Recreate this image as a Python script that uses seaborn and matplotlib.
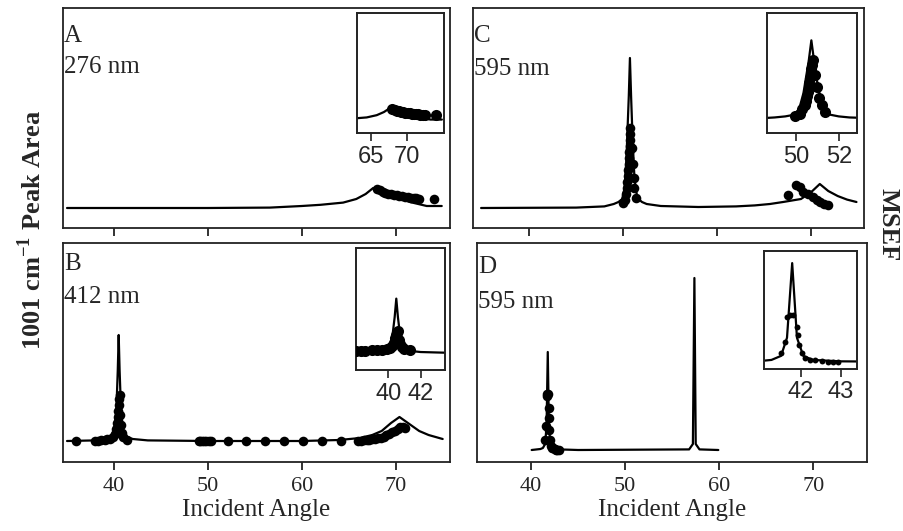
import matplotlib
matplotlib.use("Agg")
import matplotlib.pyplot as plt
import seaborn as sns

# ---------------- data ----------------
# Panel A, 276 nm
a_line_x = [35.0, 50.0, 56.6, 60.0, 62.0, 64.4, 65.8, 66.8, 67.6, 68.5, 70.0, 71.5, 73.3, 74.9]
a_line_y = [0.0, 0.0, 0.2, 1.0, 1.6, 2.7, 4.5, 7.0, 10.0, 8.5, 5.5, 3.0, 1.0, 1.0]
a_dot_x = [68.0, 68.3, 68.6, 68.9, 69.2, 69.5, 69.8, 70.1, 70.4, 70.7, 71.0, 71.3, 71.6, 71.9, 72.2, 72.5, 74.1]
a_dot_y = [9.5, 9.0, 8.0, 7.5, 7.0, 6.8, 6.5, 6.3, 6.0, 5.8, 5.6, 5.4, 5.2, 5.0, 4.8, 4.5, 4.3]

# Panel B, 412 nm
b_line_x = [35.0, 38.0, 39.0, 39.6, 40.0, 40.25, 40.4, 40.5, 40.6, 40.75, 41.0, 41.4, 42.0, 43.6,
            50.0, 60.0, 64.0, 66.2, 67.5, 68.5, 69.5, 70.4, 71.3, 72.5, 73.5, 75.0]
b_line_y = [0.0, 0.3, 0.8, 2.0, 5.0, 15.0, 35.0, 53.0, 35.0, 15.0, 5.0, 2.0, 1.0, 0.3,
            0.0, 0.0, 0.5, 1.5, 3.0, 5.0, 9.0, 12.0, 9.0, 5.0, 3.0, 1.0]
b_dot_x = [36.0, 38.0, 38.3, 38.6, 39.0, 39.3, 39.6, 39.9, 40.1, 40.25, 40.35, 40.4, 40.45, 40.5,
           40.55, 40.6, 40.65, 40.7, 40.85, 41.0, 41.35,
           49.0, 49.2, 49.4, 49.6, 49.8, 50.1, 50.3, 52.1, 54.1, 56.1, 58.1, 60.1, 62.2, 64.2,
           66.0, 66.3, 66.6, 66.9, 67.2, 67.5, 67.8, 68.1, 68.4, 68.7, 69.0, 69.3, 69.6, 69.9,
           70.2, 70.5, 70.8, 71.0]
b_dot_y = [0.0, 0.0, 0.0, 0.3, 0.5, 0.8, 1.2, 2.0, 3.5, 6.0, 9.0, 12.0, 15.0, 18.0,
           21.0, 23.0, 13.0, 8.0, 4.0, 2.0, 0.5,
           0.0, 0.0, 0.0, 0.0, 0.0, 0.0, 0.0, 0.0, 0.0, 0.0, 0.0, 0.0, 0.0, 0.0,
           0.0, 0.2, 0.3, 0.4, 0.5, 0.8, 1.0, 1.3, 1.7, 2.2, 2.8, 3.5, 4.3, 5.2,
           6.0, 6.8, 7.0, 6.5]

# Panel C, 595 nm
c_line_x = [34.9, 45.0, 48.0, 49.0, 49.5, 49.9, 50.15, 50.35, 50.6, 50.72, 50.85, 51.0, 51.2, 51.5,
            52.0, 52.5, 54.0, 58.0, 62.0, 64.0, 65.6, 67.0, 68.9, 70.0, 70.9, 71.8, 72.8, 73.8, 74.8]
c_line_y = [0.0, 0.2, 0.8, 2.0, 3.0, 4.5, 10.0, 25.0, 56.0, 75.0, 55.0, 35.0, 15.0, 5.0,
            3.0, 2.0, 1.0, 0.5, 0.8, 1.3, 2.0, 3.0, 4.5, 8.0, 12.0, 8.5, 6.0, 4.2, 3.0]
c_dot_x = [49.95, 50.2, 50.3, 50.4, 50.45, 50.5, 50.55, 50.6, 50.62, 50.65, 50.7, 50.72, 50.75,
           50.78, 50.9, 51.0, 51.1, 51.2, 51.35,
           67.5, 68.4, 68.8, 69.1, 69.7, 70.2, 70.6, 70.9, 71.4, 71.8]
c_dot_y = [2.6, 4.0, 7.0, 10.0, 13.0, 16.0, 19.0, 22.0, 25.0, 28.0, 31.0, 34.0, 37.0,
           40.0, 30.0, 22.0, 15.0, 10.0, 5.0,
           6.3, 11.3, 10.4, 7.9, 7.1, 5.4, 3.8, 2.9, 2.1, 1.3]

# Panel D, 595 nm
d_line_x = [40.07, 41.0, 41.26, 41.5, 41.65, 41.78, 41.9, 42.06, 42.3, 43.0, 45.0,
            56.8, 57.2, 57.36, 57.5, 57.9, 59.9]
d_line_y = [0.0, 0.5, 1.0, 3.0, 12.0, 49.0, 12.0, 3.0, 1.0, 0.3, 0.0,
            0.3, 3.0, 86.0, 3.0, 0.3, 0.0]
d_dot_x = [41.51, 41.60, 41.65, 41.72, 41.81, 41.89, 41.92, 41.95, 42.02, 42.10, 42.23, 42.35,
           42.52, 42.69, 42.81, 42.94]
d_dot_y = [5.2, 12.1, 27.0, 28.0, 28.0, 21.0, 16.0, 10.0, 5.2, 2.2, 1.2, 1.2,
           0.6, 0.2, 0.2, 0.2]

letters = ["A", "B", "C", "D"]
wavelengths = ["276 nm", "412 nm", "595 nm", "595 nm"]
main_ticks = [40, 50, 60, 70]
inset_ticks = [[65, 70], [40, 42], [50, 52], [42, 43]]

# ---------------- style ----------------
sns.set_style("ticks")
plt.rcParams["font.family"] = ["Liberation Serif", "DejaVu Serif"]
plt.rcParams["mathtext.fontset"] = "custom"
plt.rcParams["mathtext.rm"] = "Liberation Serif"
plt.rcParams["mathtext.bf"] = "Liberation Serif:bold"

W, H = 904, 531
fig = plt.figure(figsize=(W / 100, H / 100), dpi=100)
FRAME = "#222222"


def box(l, t, r, b):
    return [l / W, 1 - b / H, (r - l) / W, (b - t) / H]


def style_frame(ax, lw=1.3):
    for s in ax.spines.values():
        s.set_visible(True)
        s.set_color(FRAME)
        s.set_linewidth(lw)
    ax.set_yticks([])
    ax.set_ylabel("")
    ax.set_xlabel("")


def draw_main(rect, xlim, ylim, lx, ly, dx, dy, letter, wl, text_y, labels_on):
    ax = fig.add_axes(box(*rect))
    sns.lineplot(x=lx, y=ly, ax=ax, color="black", lw=1.6, estimator=None, sort=False)
    sns.scatterplot(x=dx, y=dy, ax=ax, color="black", s=48, linewidth=0, zorder=3)
    ax.set_xlim(xlim)
    ax.set_ylim(ylim)
    style_frame(ax)
    ax.set_xticks(main_ticks)
    ax.tick_params(axis="x", direction="out", length=6, width=1.3, color=FRAME,
                   labelsize=16, pad=5, labelbottom=labels_on)
    h = rect[3] - rect[1]
    ax.text(0.002, 1 - text_y[0] / h, letter, transform=ax.transAxes,
            fontsize=18, ha="left", va="baseline")
    ax.text(0.002, 1 - text_y[1] / h, wl, transform=ax.transAxes,
            fontsize=18, ha="left", va="baseline")
    if labels_on:
        ax.set_xlabel("Incident Angle", fontsize=18, labelpad=2)
    return ax


def draw_inset(rect, xlim, ylim_line, ylim_dot, ticks, lx, ly, dx, dy, size):
    ax = fig.add_axes(box(*rect))
    sns.lineplot(x=lx, y=ly, ax=ax, color="black", lw=1.6, estimator=None, sort=False)
    ax.set_xlim(xlim)
    ax.set_ylim(ylim_line)
    style_frame(ax, 1.2)
    ax.set_xticks(ticks)
    ax.tick_params(axis="x", direction="out", length=6, width=1.2, color=FRAME,
                   labelsize=17, pad=3)
    for t in ax.get_xticklabels():
        t.set_family(["Liberation Sans", "DejaVu Sans"])
    ax2 = ax.twinx()
    sns.scatterplot(x=dx, y=dy, ax=ax2, color="black", s=size, linewidth=0, zorder=3)
    ax2.set_ylim(ylim_dot)
    ax2.set_xlim(xlim)
    style_frame(ax2, 1.2)
    return ax


# main panels
draw_main((63, 8, 450, 228), (34.57, 75.78), (-10, 100), a_line_x, a_line_y, a_dot_x, a_dot_y,
          letters[0], wavelengths[0], (34, 65), False)
draw_main((63, 243, 450, 462), (34.57, 75.78), (-10.5, 99), b_line_x, b_line_y, b_dot_x, b_dot_y,
          letters[1], wavelengths[1], (27, 60), True)
draw_main((473, 8, 864, 228), (34.04, 75.6), (-10, 100), c_line_x, c_line_y, c_dot_x, c_dot_y,
          letters[2], wavelengths[2], (34, 67), False)
draw_main((477, 243, 867, 462), (34.26, 75.7), (-6, 103.5), d_line_x, d_line_y, d_dot_x, d_dot_y,
          letters[3], wavelengths[3], (30, 65), True)

# insets
draw_inset((356.7, 13.3, 444, 133.3), (63.0, 75.2), (-10, 86), (-10, 86), inset_ticks[0],
           a_line_x, a_line_y, a_dot_x, a_dot_y, 64)
draw_inset((355.7, 248.3, 445, 370), (38.0, 43.5), (-16.5, 102), (-22, 118), inset_ticks[1],
           b_line_x, b_line_y, b_dot_x, b_dot_y, 64)
draw_inset((767.3, 13.3, 856.7, 133.3), (48.66, 52.84), (-13, 100.6), (-9, 71.5), inset_ticks[2],
           c_line_x, c_line_y, c_dot_x, c_dot_y, 64)
draw_inset((764.3, 251, 856.7, 369), (41.08, 43.4), (-3.5, 55), (-4.2, 66), inset_ticks[3],
           d_line_x, d_line_y, d_dot_x, d_dot_y, 18)

# shared axis titles
fig.text(32 / W, 1 - 230 / H, r"1001 cm$^{\mathbf{-1}}$ Peak Area", rotation=90,
         fontsize=19, fontweight="bold", ha="center", va="center")
fig.text(888 / W, 1 - 225 / H, "MSEF", rotation=-90, fontsize=19, fontweight="bold",
         ha="center", va="center")

fig.savefig("out.png", dpi=100)
